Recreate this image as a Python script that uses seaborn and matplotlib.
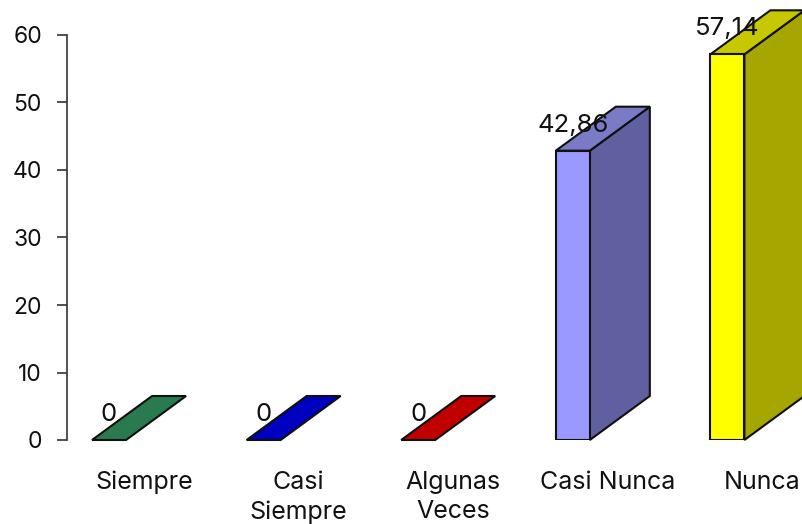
import numpy as np
import pandas as pd
import matplotlib
matplotlib.use('Agg')
import matplotlib.pyplot as plt
import seaborn as sns

categories = ['Siempre', 'Casi\nSiempre', 'Algunas\nVeces', 'Casi Nunca', 'Nunca']
values = [0, 0, 0, 42.86, 57.14]
value_labels = ['0', '0', '0', '42,86', '57,14']
yticks = [0, 10, 20, 30, 40, 50, 60]

front_colors = ['#2A7A50', '#0000C0', '#C00000', '#9999FF', '#FFFF00']
top_colors = ['#2A7A50', '#0000C0', '#C00000', '#7A7AC6', '#C8C800']
side_colors = ['#1F5C3C', '#000090', '#900000', '#6060A0', '#A6A600']

sns.set_style('white')
plt.rcParams['font.family'] = ['Inter', 'DejaVu Sans']

df = pd.DataFrame({'cat': categories, 'val': values})

fig = plt.figure(figsize=(8.03, 5.24), dpi=100)
ax = fig.add_axes([67 / 803, 84 / 524, 736 / 803, 405 / 524])

sns.barplot(data=df, x='cat', y='val', hue='cat', palette=front_colors, legend=False,
            saturation=1, width=0.22, edgecolor='#101010', linewidth=1.5, ax=ax, zorder=3)

ax.set_xlim(-0.272, 4.489)
ax.set_ylim(0, 60)
ax.set_xlabel('')
ax.set_ylabel('')

# depth of the fake 3d bars
dx = 60 / 154.6
dy = 44 / 6.75

bars = sorted(ax.patches, key=lambda p: p.get_x())
for i, bar in enumerate(bars):
    x0 = bar.get_x()
    x1 = x0 + bar.get_width()
    h = bar.get_height()
    if h > 0:
        ax.fill([x1, x1 + dx, x1 + dx, x1], [0, dy, h + dy, h], color=side_colors[i],
                ec='#101010', lw=1.5, clip_on=False, zorder=2)
    ax.fill([x0, x1, x1 + dx, x0 + dx], [h, h, h + dy, h + dy], color=top_colors[i],
            ec='#101010', lw=1.5, clip_on=False, zorder=2)
    ax.annotate(value_labels[i], (x0 + bar.get_width() / 2, h), xytext=(0, 18.5),
                textcoords='offset points', ha='center', va='center',
                fontsize=18.5, color='#111111', zorder=5, annotation_clip=False)

# category labels sit under the middle of the bar and its depth
ax.set_xticks(np.arange(len(categories)) + 0.225)
ax.set_xticklabels(categories, fontsize=18, color='#111111', linespacing=1.35)
ax.set_yticks(yticks)
ax.tick_params(axis='y', length=7, width=1.2, color='#333333', labelsize=16.5,
               labelcolor='#111111', pad=11, left=True)
ax.tick_params(axis='x', length=0, pad=22)

sns.despine(ax=ax, top=True, right=True, bottom=True)
ax.spines['left'].set_color('#333333')
ax.spines['left'].set_linewidth(1.2)
ax.patch.set_alpha(0)

fig.savefig('out.png', dpi=100)
